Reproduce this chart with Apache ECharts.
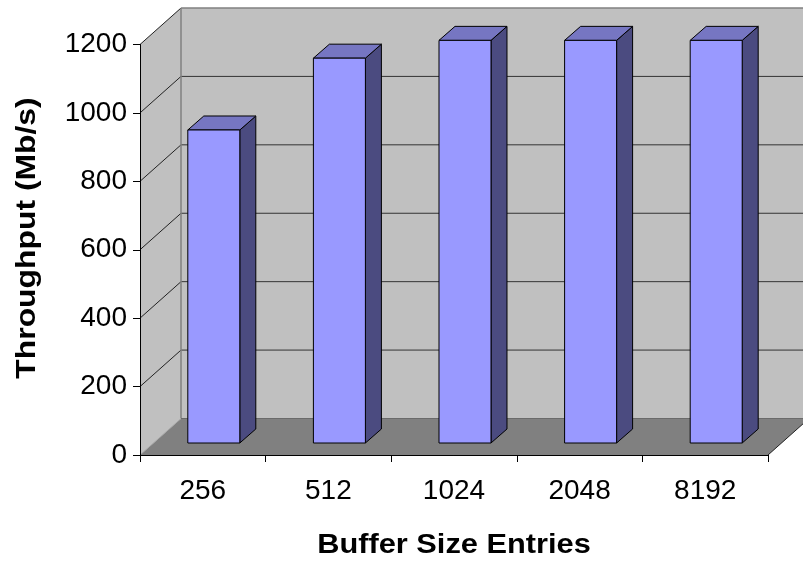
<!DOCTYPE html>
<html>
<head>
<meta charset="utf-8">
<script src="https://cdn.jsdelivr.net/npm/echarts@6/dist/echarts.min.js"></script>
<style>
  html, body { margin: 0; padding: 0; background: #ffffff; }
  #chart { width: 803px; height: 563px; }
</style>
</head>
<body>
<div id="chart"></div>
<script>
// Buffer sizes (categories) and measured throughput in Mb/s
var bufferSizes = ['256', '512', '1024', '2048', '8192'];
var throughput = [915, 1125, 1177, 1177, 1177];
var yTicks = [0, 200, 400, 600, 800, 1000, 1200];

// 3D look: depth vector of the plot box, and the bars' placement within it
var DEPTH = [41, -36.5];
var BAR_OFFSET = [11, -12];
var BAR_DEPTH = [16, -14];
var BAR_RATIO = 0.414;

var FONT = 'Liberation Sans, Arial, sans-serif';

var chart = echarts.init(document.getElementById('chart'), null, { renderer: 'canvas' });

function pt(p, d) { return [p[0] + d[0], p[1] + d[1]]; }

// Walls, floor and gridlines of the 3D box
function renderWalls(params, api) {
  var cs = params.coordSys;
  var x0 = cs.x, x1 = cs.x + cs.width;
  var yZero = api.coord([0, 0])[1];
  var yTop = api.coord([0, yTicks[yTicks.length - 1]])[1];
  var children = [];

  // left side wall
  children.push({
    type: 'polygon',
    shape: { points: [[x0, yTop], pt([x0, yTop], DEPTH), pt([x0, yZero], DEPTH), [x0, yZero]] },
    style: { fill: '#c0c0c0', stroke: null }
  });
  // back wall
  children.push({
    type: 'polygon',
    shape: { points: [pt([x0, yTop], DEPTH), pt([x1, yTop], DEPTH), pt([x1, yZero], DEPTH), pt([x0, yZero], DEPTH)] },
    style: { fill: '#c0c0c0', stroke: null }
  });
  // floor
  children.push({
    type: 'polygon',
    shape: { points: [[x0, yZero], pt([x0, yZero], DEPTH), pt([x1, yZero], DEPTH), [x1, yZero]] },
    style: { fill: '#808080', stroke: null }
  });
  // gridlines on the side and back walls
  yTicks.forEach(function (t) {
    if (t === 0) return;
    var y = api.coord([0, t])[1];
    var isTop = t === yTicks[yTicks.length - 1];
    children.push({
      type: 'line',
      shape: { x1: x0, y1: y, x2: x0 + DEPTH[0], y2: y + DEPTH[1] },
      style: { stroke: '#222222', lineWidth: 1 }
    });
    children.push({
      type: 'line',
      shape: { x1: x0 + DEPTH[0], y1: y + DEPTH[1], x2: x1 + DEPTH[0], y2: y + DEPTH[1] },
      style: { stroke: isTop ? '#808080' : '#333333', lineWidth: isTop ? 1.5 : 1 }
    });
  });
  // back wall edges
  children.push({
    type: 'line',
    shape: { x1: x0 + DEPTH[0], y1: yTop + DEPTH[1], x2: x0 + DEPTH[0], y2: yZero + DEPTH[1] },
    style: { stroke: '#808080', lineWidth: 1.5 }
  });
  children.push({
    type: 'line',
    shape: { x1: x0 + DEPTH[0], y1: yZero + DEPTH[1], x2: x1 + DEPTH[0], y2: yZero + DEPTH[1] },
    style: { stroke: '#6a6a6a', lineWidth: 1 }
  });
  // floor edges
  children.push({
    type: 'line',
    shape: { x1: x0, y1: yZero, x2: x0 + DEPTH[0], y2: yZero + DEPTH[1] },
    style: { stroke: '#a8a8a8', lineWidth: 1 }
  });
  children.push({
    type: 'line',
    shape: { x1: x1, y1: yZero, x2: x1 + DEPTH[0], y2: yZero + DEPTH[1] },
    style: { stroke: '#202020', lineWidth: 1 }
  });
  return { type: 'group', children: children };
}

// A 3D column: front face, top face and right side face
function renderBar(params, api) {
  var idx = api.value(0);
  var v = api.value(1);
  var base = api.coord([idx, 0]);
  var top = api.coord([idx, v]);
  var band = api.size([1, 0])[0];
  var w = band * BAR_RATIO;
  var L = base[0] + BAR_OFFSET[0] - w / 2;
  var R = L + w;
  var B = base[1] + BAR_OFFSET[1];
  var T = top[1] + BAR_OFFSET[1];
  var dx = BAR_DEPTH[0], dy = BAR_DEPTH[1];
  var edge = { stroke: '#000000', lineWidth: 1, lineJoin: 'round' };
  return {
    type: 'group',
    children: [
      {
        type: 'polygon',
        shape: { points: [[R, T], [R + dx, T + dy], [R + dx, B + dy], [R, B]] },
        style: Object.assign({ fill: '#4b4b80' }, edge)
      },
      {
        type: 'polygon',
        shape: { points: [[L, T], [R, T], [R + dx, T + dy], [L + dx, T + dy]] },
        style: Object.assign({ fill: '#7676c2' }, edge)
      },
      {
        type: 'rect',
        shape: { x: L, y: T, width: w, height: B - T },
        style: Object.assign({ fill: '#9999ff' }, edge)
      }
    ]
  };
}

var barData = throughput.map(function (v, i) { return [i, v]; });

chart.setOption({
  backgroundColor: '#ffffff',
  animation: false,
  grid: { left: 140, right: 35, top: 44.5, bottom: 108, containLabel: false },
  xAxis: {
    type: 'category',
    data: bufferSizes,
    z: 10,
    axisLine: { show: true, lineStyle: { color: '#000000', width: 1 } },
    axisTick: { show: true, length: 7, lineStyle: { color: '#000000' } },
    axisLabel: { fontSize: 28, color: '#000000', fontFamily: FONT, margin: 22 },
    splitLine: { show: false }
  },
  yAxis: {
    type: 'value',
    min: 0,
    max: 1200,
    interval: 200,
    z: 10,
    axisLine: { show: true, lineStyle: { color: '#000000', width: 1 } },
    axisTick: { show: true, length: 7, lineStyle: { color: '#000000' } },
    axisLabel: {
      fontSize: 28, color: '#000000', fontFamily: FONT, margin: 13,
      formatter: function (v) { return String(v); }
    },
    splitLine: { show: false }
  },
  graphic: [
    {
      type: 'text',
      x: 28, y: 238,
      rotation: Math.PI / 2,
      scaleX: 1.18,
      style: {
        text: 'Throughput (Mb/s)',
        fontSize: 27, fontWeight: 'bold', fontFamily: FONT,
        fill: '#000000', textAlign: 'center', textVerticalAlign: 'middle'
      }
    },
    {
      type: 'text',
      x: 454, y: 546,
      scaleX: 1.14,
      style: {
        text: 'Buffer Size Entries',
        fontSize: 27, fontWeight: 'bold', fontFamily: FONT,
        fill: '#000000', textAlign: 'center', textVerticalAlign: 'middle'
      }
    }
  ],
  series: [
    {
      type: 'custom',
      name: 'walls',
      renderItem: renderWalls,
      data: [[0, 0]],
      silent: true,
      clip: false,
      z: 1
    },
    {
      type: 'custom',
      name: 'Throughput',
      renderItem: renderBar,
      data: barData,
      encode: { x: 0, y: 1 },
      clip: false,
      z: 2
    }
  ]
});
</script>
</body>
</html>
